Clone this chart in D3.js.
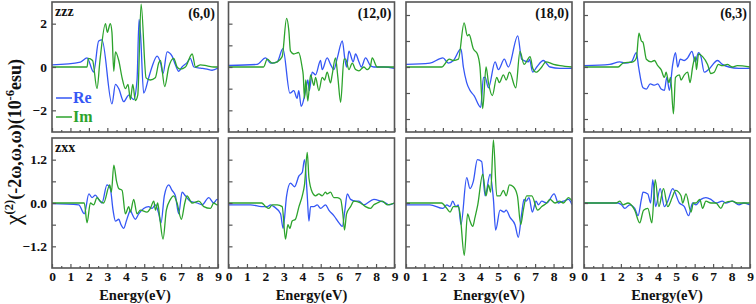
<!DOCTYPE html>
<html><head><meta charset="utf-8">
<script src="https://cdn.jsdelivr.net/npm/d3@7"></script>
<style>
body{margin:0;background:#fff;}
svg{display:block;}
text{font-family:"Liberation Serif","Times New Roman",serif;font-weight:bold;fill:#111;}
</style></head><body>
<svg id="chart" width="756" height="304"></svg>
<script>
// ---------------- data (energy eV, chi value) ----------------
const panelLabels = ["(6,0)", "(12,0)", "(18,0)", "(6,3)"];
const rowLabels = ["zzz", "zxx"];
const xTickLabels = [0,1,2,3,4,5,6,7,8,9];
const zzzYTicksLabelled = [-2, 0, 2];
const zxxYTicksLabelled = [-1.2, 0.0, 1.2];

const zzz60Re = [[0,0.1],[1.54,0.23],[1.9,0.42],[2.26,-0.23],[2.53,1.2],[2.71,1.25],[3.25,-1.7],[3.44,-0.8],[3.62,-1.0],[3.89,-1.6],[4.16,-1.3],[4.43,-1.5],[4.61,-0.6],[4.72,2.2],[4.8,1.5],[4.97,-1.2],[5.24,-0.5],[5.42,0.0],[5.7,0.5],[5.88,0.2],[6.02,-0.3],[6.24,0.7],[6.51,0.5],[6.69,0.1],[6.87,-0.2],[7.05,0.0],[7.32,0.2],[7.5,0.4],[7.69,0.0],[8.05,-0.05],[8.41,-0.1],[8.68,-0.15],[9,-0.05]];
const zzz60Im = [[0,0],[1.9,0],[1.97,0.4],[2.2,0.3],[2.44,-1.0],[2.6,0.3],[2.9,2.0],[3.0,1.6],[3.16,2.0],[3.25,1.6],[3.35,-0.2],[3.44,0.7],[3.62,0.3],[3.8,-0.5],[3.98,-1.0],[4.12,-0.8],[4.25,-1.5],[4.38,-0.8],[4.52,-1.55],[4.65,-1.3],[4.83,2.9],[5.1,-0.5],[5.33,-0.6],[5.6,-0.5],[5.79,0.2],[5.88,0.3],[6.11,-0.9],[6.33,0.0],[6.6,0.4],[6.78,0.0],[6.96,-0.1],[7.23,0.0],[7.6,0.6],[7.78,0.0],[8.05,0.1],[8.41,0.05],[8.77,0.0],[9,0]];
const zzz120Re = [[0,0.07],[1.55,0.12],[2.01,0.42],[2.28,0.18],[2.64,0.24],[2.95,0.85],[3.33,-1.21],[3.54,-1.09],[3.72,-1.45],[3.81,-1.09],[3.94,-1.82],[4.18,-1.09],[4.3,-0.6],[4.38,-1.09],[4.54,-0.24],[4.72,-0.36],[4.99,0.3],[5.08,-0.12],[5.35,0.42],[5.53,0.12],[5.71,-0.12],[5.9,0.42],[6.17,1.21],[6.31,0.36],[6.4,0.0],[6.53,0.73],[6.76,0.24],[6.89,0.6],[7.07,0.24],[7.2,0.0],[7.43,0.42],[7.7,0.06],[7.88,0.0],[8.43,0.0],[9,-0.06]];
const zzz120Im = [[0,0],[1.9,0],[2.1,0.36],[2.37,0.18],[2.64,0.24],[2.91,0.48],[3.15,2.24],[3.27,1.69],[3.36,0.73],[3.54,0.6],[3.8,0.67],[3.99,0.0],[4.05,-0.36],[4.12,-1.45],[4.19,-0.6],[4.3,-1.57],[4.45,-0.36],[4.63,-0.85],[4.72,-0.48],[4.9,-1.09],[5.08,-0.48],[5.21,-0.6],[5.35,-0.24],[5.53,-0.73],[5.62,-0.36],[5.8,0.42],[5.93,-0.48],[6.08,-1.63],[6.26,0.36],[6.35,0.36],[6.53,-0.12],[6.71,0.18],[6.89,-0.12],[7.07,-0.18],[7.34,0.0],[7.52,-0.12],[7.7,0.06],[7.79,0.42],[8.06,0.0],[9,0]];
const zzz180Re = [[0,0.1],[1.3,0.15],[2.0,0.35],[2.3,0.15],[2.57,0.25],[2.98,0.7],[3.11,0.0],[3.29,-0.6],[3.47,-0.9],[3.69,-1.1],[4.05,-1.55],[4.2,-0.4],[4.29,-0.4],[4.47,-0.8],[4.83,0.2],[5.01,-0.1],[5.33,0.3],[5.55,0.0],[6.06,1.2],[6.27,0.3],[6.64,0.2],[6.69,0.3],[6.87,-0.2],[7.09,0.0],[7.45,0.25],[7.81,0.0],[8.35,-0.05],[9,-0.05]];
const zzz180Im = [[0,0],[1.93,0],[2.35,0.3],[2.57,0.25],[2.84,0.3],[3.15,1.7],[3.33,1.2],[3.42,1.25],[3.65,0.7],[3.87,0.5],[4.01,0.0],[4.16,-1.6],[4.34,0.0],[4.47,-0.6],[4.68,-1.1],[4.92,-0.4],[5.06,-0.6],[5.28,-0.3],[5.43,-0.5],[5.61,-0.2],[5.95,-0.8],[6.18,0.6],[6.4,0.1],[6.73,0.4],[6.87,-0.05],[7.05,-0.2],[7.36,0.0],[7.58,0.2],[8.0,0.1],[8.35,0.05],[9,0]];
const zzz63Re = [[0,0.05],[1.4,0.1],[1.94,0.2],[2.21,0.15],[2.57,0.2],[2.84,0.55],[2.96,0.0],[3.2,-0.8],[3.38,-0.85],[3.59,-0.65],[3.82,-0.7],[4.0,-0.65],[4.18,-0.85],[4.36,-0.9],[4.49,-0.4],[4.63,-0.9],[4.81,0.1],[4.96,0.55],[5.08,0.0],[5.22,0.3],[5.44,0.25],[5.62,0.35],[5.85,0.6],[6.03,0.2],[6.21,0.55],[6.34,0.4],[6.52,-0.2],[6.75,-0.1],[7.24,0.25],[7.5,0.1],[7.86,0.0],[8.4,-0.05],[9,-0.05]];
const zzz63Im = [[0,0],[1.85,0],[2.12,0.15],[2.66,0.2],[2.84,0.35],[2.98,1.3],[3.11,1.0],[3.2,0.95],[3.38,0.3],[3.64,0.2],[3.82,0.25],[4.0,0.05],[4.18,-0.1],[4.36,-0.4],[4.45,-0.2],[4.6,-0.6],[4.69,-0.4],[4.85,-1.8],[4.96,-0.4],[5.17,-0.3],[5.26,-0.5],[5.44,-0.3],[5.62,-0.2],[5.75,-0.6],[5.89,0.0],[6.03,0.4],[6.1,-0.1],[6.21,0.5],[6.43,0.4],[6.7,0.1],[6.88,-0.25],[7.06,-0.2],[7.29,0.1],[7.5,0.05],[7.77,0.1],[8.04,0.0],[8.31,0.05],[9,0]];

const zxx60Re = [[0,-0.02],[1.45,-0.05],[1.75,-0.3],[2.0,0.25],[2.17,0.15],[2.35,0.22],[2.53,0.1],[2.71,0.0],[2.98,0.5],[3.16,0.4],[3.31,-0.2],[3.44,-0.5],[3.62,-0.45],[3.74,-0.6],[3.89,-0.7],[4.03,-0.5],[4.16,-0.3],[4.25,-0.2],[4.34,-0.3],[4.52,-0.45],[4.7,-0.3],[4.97,-0.15],[5.24,-0.1],[5.42,-0.15],[5.61,-0.05],[5.79,-0.3],[5.91,-0.55],[6.09,0.2],[6.33,0.5],[6.51,0.35],[6.69,0.2],[6.87,-0.3],[7.05,0.3],[7.23,0.2],[7.5,0.05],[7.87,0.0],[8.14,-0.05],[8.5,0.15],[8.77,0.0],[8.95,0.1],[9,0.1]];
const zxx60Im = [[0,0],[1.75,0],[1.9,-0.55],[2.08,0.0],[2.26,-0.05],[2.44,0.15],[2.62,0.05],[2.8,0.0],[3.13,0.5],[3.22,0.3],[3.35,1.05],[3.5,0.6],[3.62,0.4],[3.8,0.35],[3.98,-0.3],[4.16,-0.1],[4.25,-0.25],[4.43,0.1],[4.61,-0.3],[4.79,-0.2],[5.15,-0.25],[5.33,-0.15],[5.52,0.05],[5.61,-0.2],[5.73,0.0],[5.84,-0.4],[6.02,-1.0],[6.2,-0.2],[6.42,0.1],[6.6,0.2],[6.78,0.0],[7.01,-0.45],[7.2,0.0],[7.32,0.2],[7.59,0.0],[7.96,0.05],[8.23,-0.1],[8.59,-0.15],[8.77,0.0],[8.95,-0.05],[9,-0.05]];
const zxx120Re = [[0,-0.05],[1.19,-0.05],[1.8,-0.1],[2.1,-0.1],[2.28,-0.05],[2.46,-0.1],[2.82,-0.3],[2.96,-0.7],[3.15,0.2],[3.36,0.55],[3.58,0.45],[3.82,0.75],[4.0,0.85],[4.12,1.2],[4.27,0.2],[4.36,-0.5],[4.45,-0.1],[4.63,-0.1],[4.81,-0.05],[4.99,-0.15],[5.26,-0.05],[5.44,-0.2],[5.71,-0.35],[5.99,-0.55],[6.17,-0.65],[6.31,-0.2],[6.44,0.25],[6.62,0.1],[6.89,0.05],[7.07,0.05],[7.34,-0.05],[7.88,0.1],[8.25,0.05],[8.52,0.0],[8.7,-0.05],[9,0.0]];
const zxx120Im = [[0,0],[1.8,0],[2.01,-0.1],[2.19,-0.15],[2.37,-0.05],[2.64,-0.05],[2.91,-0.1],[3.09,-1.0],[3.22,-0.6],[3.33,-0.7],[3.45,-0.5],[3.63,-0.45],[3.82,-0.1],[4.0,0.2],[4.12,0.5],[4.27,1.4],[4.36,0.7],[4.54,0.3],[4.72,0.2],[4.9,0.25],[5.08,0.2],[5.26,0.3],[5.35,0.25],[5.53,0.3],[5.71,0.15],[5.9,0.15],[6.08,0.1],[6.2,-0.3],[6.29,-0.75],[6.4,-0.3],[6.62,-0.1],[6.8,0.05],[7.16,0.0],[7.43,-0.1],[7.7,-0.15],[7.88,-0.05],[8.06,0.0],[8.34,0.05],[8.61,-0.05],[9,0]];
const zxx180Re = [[0,-0.05],[1.3,-0.05],[2.0,-0.15],[2.21,-0.05],[2.39,-0.1],[2.53,0.05],[2.71,-0.1],[2.84,-0.05],[2.98,-0.6],[3.29,0.7],[3.47,0.4],[3.65,0.6],[3.87,1.2],[4.1,1.15],[4.29,0.2],[4.56,0.8],[4.74,0.1],[4.86,-0.75],[5.1,-0.2],[5.32,-0.25],[5.43,-0.2],[5.64,-0.4],[5.91,-0.6],[6.09,-0.95],[6.27,-0.3],[6.4,0.1],[6.51,0.05],[6.67,0.15],[6.85,-0.25],[7.05,0.05],[7.18,-0.05],[7.36,0.05],[7.63,0.0],[8.03,0.25],[8.26,0.0],[8.53,0.05],[8.81,0.1],[9,-0.05]];
const zxx180Im = [[0,0],[1.93,0],[2.21,-0.15],[2.39,-0.25],[2.57,-0.1],[2.84,-0.1],[2.93,-0.3],[3.16,-1.45],[3.34,-0.3],[3.47,-0.5],[3.62,-0.65],[3.74,-0.4],[3.89,-0.05],[4.16,0.8],[4.34,0.2],[4.47,0.5],[4.59,0.3],[4.74,1.75],[4.92,0.2],[5.1,0.2],[5.28,0.35],[5.43,0.2],[5.61,0.5],[5.82,0.45],[6.04,0.2],[6.22,-0.6],[6.36,-0.2],[6.54,0.2],[6.82,0.2],[7.14,-0.2],[7.36,-0.1],[7.63,0.0],[7.81,0.1],[8.08,0.0],[8.32,0.05],[8.53,0.0],[8.81,0.15],[9,0.05]];
const zxx63Re = [[0,0],[1.85,0],[2.03,-0.05],[2.21,-0.15],[2.48,-0.05],[2.75,-0.15],[2.93,-0.35],[3.11,0.1],[3.2,0.3],[3.46,0.25],[3.61,0.0],[3.73,0.65],[3.88,-0.1],[4.13,0.4],[4.36,-0.1],[4.54,0.05],[4.81,0.4],[5.17,0.0],[5.44,-0.1],[5.67,-0.35],[5.89,0.0],[6.07,-0.05],[6.34,0.1],[6.61,0.15],[6.88,0.1],[7.15,0.0],[7.5,0.05],[7.68,0.0],[8.04,0.05],[8.4,-0.05],[8.67,0.0],[9,-0.05]];
const zxx63Im = [[0,0],[1.76,0],[1.94,0.05],[2.12,-0.05],[2.39,0.0],[2.75,-0.2],[3.02,-0.55],[3.23,-0.2],[3.46,-0.15],[3.68,-0.55],[3.86,0.65],[4.06,-0.1],[4.31,0.4],[4.54,-0.1],[4.78,0.15],[4.96,0.35],[5.26,0.2],[5.35,0.0],[5.53,0.25],[5.8,-0.25],[5.93,0.0],[6.07,0.0],[6.28,0.1],[6.43,-0.15],[6.61,0.05],[6.88,0.0],[7.15,0.0],[7.42,-0.15],[7.59,0.0],[8.04,0.05],[8.31,0.0],[9,0]];

// ---------------- layout ----------------
const svg = d3.select("#chart");
const BLUE = "#3557f5", GREEN = "#2ca32c", FRAME = "#555";
const SERIF = "'Liberation Serif','Times New Roman',serif";
const panelLeft = [52, 228.5, 406, 584];
const panelW = 166;
const rowTop = [2, 138];
const rowH = 130;

const zzzRe = [zzz60Re, zzz120Re, zzz180Re, zzz63Re];
const zzzIm = [zzz60Im, zzz120Im, zzz180Im, zzz63Im];
const zxxRe = [zxx60Re, zxx120Re, zxx180Re, zxx63Re];
const zxxIm = [zxx60Im, zxx120Im, zxx180Im, zxx63Im];
const zzzDomains = [[-3,3],[-3,3],[-2.5,2.5],[-2.5,2.5]];

const defs = svg.append("defs");

function styleAxis(sel) {
  sel.attr("font-family", SERIF).attr("font-size", null);
  sel.select(".domain").remove();
  sel.selectAll(".tick line").attr("stroke", FRAME).attr("stroke-width", 1.2);
  sel.selectAll(".tick text").style("font-size", "13.5px").style("font-family", SERIF)
    .style("font-weight", "bold").attr("fill", "#111");
}

function drawPanel(row, col) {
  const x0 = panelLeft[col], y0 = rowTop[row];
  const g = svg.append("g").attr("transform", `translate(${x0},${y0})`);
  const x = d3.scaleLinear().domain([0, 9]).range([0, panelW]);
  const dom = row === 0 ? zzzDomains[col] : [-1.8, 1.8];
  const y = d3.scaleLinear().domain(dom).range([rowH, 0]);
  const id = `clip${row}${col}`;
  defs.append("clipPath").attr("id", id).append("rect").attr("width", panelW).attr("height", rowH);

  const line = d3.line().x(d => x(d[0])).y(d => y(d[1])).curve(d3.curveMonotoneX);
  const re = row === 0 ? zzzRe[col] : zxxRe[col];
  const im = row === 0 ? zzzIm[col] : zxxIm[col];
  const lg = g.append("g").attr("clip-path", `url(#${id})`);
  lg.append("path").datum(re).attr("d", line).attr("fill", "none").attr("stroke", BLUE).attr("stroke-width", 1.3);
  lg.append("path").datum(im).attr("d", line).attr("fill", "none").attr("stroke", GREEN).attr("stroke-width", 1.3);

  // y ticks
  let yTicks;
  if (row === 0) yTicks = col === 0 ? zzzYTicksLabelled : [-2,-1,0,1,2];
  else yTicks = [-1.2,-0.6,0,0.6,1.2];
  const yAxis = d3.axisLeft(y).tickValues(yTicks).tickSize(-4).tickPadding(5)
    .tickFormat(d => {
      if (col !== 0) return "";
      if (row === 0) return (zzzYTicksLabelled.includes(d)) ? d3.format("d")(d) : "";
      return zxxYTicksLabelled.some(v => Math.abs(v - d) < 1e-9) ? d3.format(".1f")(d) : "";
    });
  g.append("g").call(yAxis).call(styleAxis);

  // x ticks (major + minor)
  const xMinor = d3.range(0.5, 9, 1);
  g.append("g").attr("transform", `translate(0,${rowH})`)
    .call(d3.axisBottom(x).tickValues(xTickLabels).tickSize(-4).tickPadding(3)
      .tickFormat(d => row === 1 ? d : ""))
    .call(styleAxis);
  g.append("g").attr("transform", `translate(0,${rowH})`)
    .call(d3.axisBottom(x).tickValues(xMinor).tickSize(-2).tickFormat(""))
    .call(styleAxis);

  // frame
  g.append("rect").attr("width", panelW).attr("height", rowH)
    .attr("fill", "none").attr("stroke", FRAME).attr("stroke-width", 1.6);

  if (row === 0) {
    g.append("text").attr("x", panelW - 3).attr("y", 16).attr("text-anchor", "end")
      .style("font-size", "14px").text(panelLabels[col]);
  }
  if (col === 0) {
    g.append("text").attr("x", 3).attr("y", 14).style("font-size", "14px").text(rowLabels[row]);
  }
  if (row === 1) {
    g.append("text").attr("x", panelW / 2).attr("y", 299.5 - y0).attr("text-anchor", "middle")
      .style("font-size", "14.5px").text("Energy(eV)");
  }
  if (row === 0 && col === 0) {
    const leg = [["Re", BLUE, 98], ["Im", GREEN, 117]];
    leg.forEach(([t, c, ly]) => {
      g.append("line").attr("x1", 4).attr("x2", 20).attr("y1", ly - y0).attr("y2", ly - y0)
        .attr("stroke", c).attr("stroke-width", 1.5);
      g.append("text").attr("x", 21).attr("y", ly - y0 + 5).style("font-size", "16px")
        .style("fill", c).text(t);
    });
  }
}

for (let r = 0; r < 2; r++) for (let c = 0; c < 4; c++) drawPanel(r, c);

// y-axis title
const yt = svg.append("text").attr("transform", "translate(21,142) rotate(-90)")
  .attr("text-anchor", "middle").style("font-size", "18px");
yt.append("tspan").style("font-size", "24px").style("font-weight", "normal").text("χ");
yt.append("tspan").attr("dy", -8).style("font-size", "12.5px").text("(2)");
yt.append("tspan").attr("dy", 8).text("(-2ω,ω,ω)(10");
yt.append("tspan").attr("dy", -7).style("font-size", "12.5px").text("-6");
yt.append("tspan").attr("dy", 7).text("esu)");
</script>
</body></html>
